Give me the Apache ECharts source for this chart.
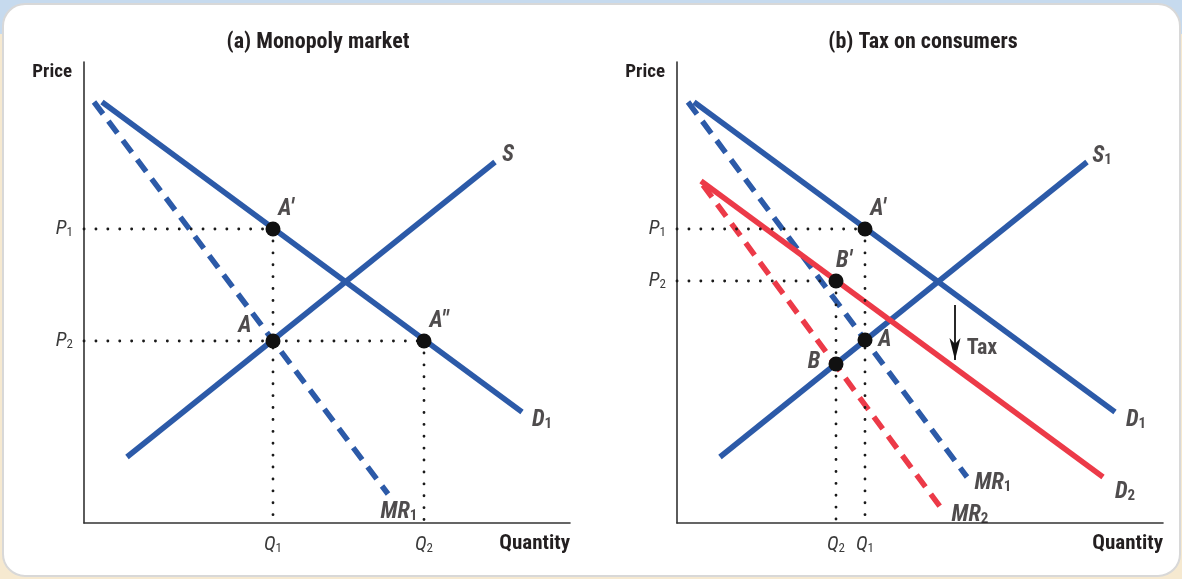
<!DOCTYPE html>
<html>
<head>
<meta charset="utf-8">
<script src="https://cdn.jsdelivr.net/npm/echarts@6/dist/echarts.min.js"></script>
<style>
html,body{margin:0;padding:0;background:#f5e8cf;}
#c{width:1182px;height:579px;}
</style>
</head>
<body>
<div id="c"></div>
<script>
// ---------- Data (values in each panel's own Quantity / Price units) ----------
// Panel (a) Monopoly market
const demandA = [[18, 421], [438, 111]];
const supplyA = [[43, 66], [411, 361]];
const mrA = [[10, 421], [304, 29]];
const pointNamesA = ['A′', 'A', 'A″'];
const pointsA = [[189, 294], [189, 182], [340, 182]];
const priceTicksA = [294, 182];
const priceTickNamesA = ['1', '2'];
const qtyTicksA = [189, 340];
const qtyTickNamesA = ['1', '2'];

// Panel (b) Tax on consumers
const demandB1 = [[17, 421], [438, 111]];
const supplyB = [[43, 66], [410, 361]];
const mrB1 = [[11, 421], [290, 46]];
const demandB2 = [[24, 342], [426, 46]];
const mrB2 = [[26, 338], [264, 15]];
const pointNamesB = ['A′', 'B′', 'A', 'B'];
const pointsB = [[188, 294], [159, 242], [188, 183], [159, 159]];
const priceTicksB = [294, 242];
const priceTickNamesB = ['1', '2'];
const qtyTicksB = [159, 188];
const qtyTickNamesB = ['2', '1'];
const taxArrow = [[278, 218], [278, 163]];
const taxLabelPos = [305, 175];

const AX_MAX_X = 486, AX_MAX_Y = 461;

// ---------- Styling ----------
const F = '"Liberation Sans Narrow", "Roboto Condensed", "Liberation Sans", Roboto, sans-serif';
const INK = '#231f20';
const BLUE = '#2c5aa8';
const RED = '#ec3a48';

const rich = {
  m: {fontFamily: F, fontWeight: 'bold', fontStyle: 'italic', fontSize: 23, lineHeight: 23, color: INK, verticalAlign: 'middle'},
  s: {fontFamily: F, fontWeight: 'bold', fontSize: 15, lineHeight: 15, color: INK, padding: [12, 0, 0, 0], verticalAlign: 'bottom'},
  t: {fontFamily: F, fontWeight: 'bold', fontSize: 22, color: INK}
};
const axRich = {
  p: {fontFamily: F, fontStyle: 'italic', fontSize: 20, lineHeight: 20, color: '#3a3a3a', verticalAlign: 'middle'},
  s: {fontFamily: F, fontSize: 13, lineHeight: 13, color: '#3a3a3a', padding: [11, 0, 0, 0], verticalAlign: 'bottom'}
};

function sub(main, s) { return '{m|' + main + '}' + (s ? '{s|' + s + '}' : ''); }

function curve(name, data, gi, color, dashed) {
  return {
    type: 'line', name: name, xAxisIndex: gi, yAxisIndex: gi, data: data,
    showSymbol: false, symbol: 'none', silent: true, animation: false, z: 3,
    lineStyle: {color: color, width: 5.5, type: dashed ? [15, 9] : 'solid', cap: 'butt'}
  };
}
function guide(a, b, gi) {
  return {
    type: 'line', xAxisIndex: gi, yAxisIndex: gi, data: [a, b], symbol: 'none', silent: true,
    animation: false, z: 4,
    lineStyle: {color: '#1a1a1a', width: 2.8, type: [0.1, 11.8], cap: 'round'}
  };
}
function labelAt(pt, text, off, gi) {
  return {
    type: 'scatter', xAxisIndex: gi, yAxisIndex: gi, symbolSize: 1, silent: true, animation: false, z: 6,
    itemStyle: {color: 'rgba(0,0,0,0)'},
    data: [{value: pt, label: {show: true, position: 'inside', offset: off, formatter: text, rich: rich}}]
  };
}
function pointSeries(pts, gi) {
  return {
    type: 'scatter', xAxisIndex: gi, yAxisIndex: gi, data: pts, symbolSize: 15, silent: true,
    animation: false, z: 5, itemStyle: {color: '#111', opacity: 1}
  };
}

function mkAxes(gi, pTicks, pNames, qTicks, qNames) {
  const x = {
    type: 'value', gridIndex: gi, min: 0, max: AX_MAX_X,
    axisLine: {show: true, onZero: false, lineStyle: {color: '#333', width: 1.6}},
    axisTick: {show: false}, splitLine: {show: false},
    axisLabel: {show: true, customValues: qTicks, margin: 12, rich: axRich,
      formatter: v => '{p|Q}{s|' + qNames[qTicks.indexOf(v)] + '}'},
    name: 'Quantity', nameLocation: 'end', nameGap: 0,
    nameTextStyle: {fontFamily: F, fontWeight: 'bold', fontSize: 21, color: INK, align: 'right', verticalAlign: 'top', padding: [10, 0, 0, 0]}
  };
  const y = {
    type: 'value', gridIndex: gi, min: 0, max: AX_MAX_Y,
    axisLine: {show: true, onZero: false, lineStyle: {color: '#333', width: 1.6}},
    axisTick: {show: false}, splitLine: {show: false},
    axisLabel: {show: true, customValues: pTicks, margin: 11, rich: axRich,
      formatter: v => '{p|P}{s|' + pNames[pTicks.indexOf(v)] + '}'},
    name: 'Price', nameLocation: 'end', nameGap: 0,
    nameTextStyle: {fontFamily: F, fontWeight: 'bold', fontSize: 19, color: INK, align: 'right', verticalAlign: 'top', padding: [1, 12, 0, 0]}
  };
  return [x, y];
}

const axA = mkAxes(0, priceTicksA, priceTickNamesA, qtyTicksA, qtyTickNamesA);
const axB = mkAxes(1, priceTicksB, priceTickNamesB, qtyTicksB, qtyTickNamesB);

const series = [];
// Panel (a)
series.push(curve('MR1', mrA, 0, BLUE, true));
series.push(curve('S', supplyA, 0, BLUE, false));
series.push(curve('D1', demandA, 0, BLUE, false));
series.push(guide([0, pointsA[0][1]], pointsA[0], 0));
series.push(guide(pointsA[0], [pointsA[0][0], 0], 0));
series.push(guide([0, pointsA[2][1]], pointsA[2], 0));
series.push(guide(pointsA[2], [pointsA[2][0], 0], 0));
series.push(pointSeries(pointsA, 0));
series.push(labelAt(supplyA[1], sub('S'), [13, -7], 0));
series.push(labelAt(demandA[1], sub('D', '1'), [20, 8], 0));
series.push(labelAt(mrA[1], sub('MR', '1'), [11, 18], 0));
series.push(labelAt(pointsA[0], sub(pointNamesA[0]), [13, -20], 0));
series.push(labelAt(pointsA[1], sub(pointNamesA[1]), [-28, -15], 0));
series.push(labelAt(pointsA[2], sub(pointNamesA[2]), [15, -20], 0));

// Panel (b)
series.push(curve('MR1', mrB1, 1, BLUE, true));
series.push(curve('MR2', mrB2, 1, RED, true));
series.push(curve('S1', supplyB, 1, BLUE, false));
series.push(curve('D1', demandB1, 1, BLUE, false));
series.push(curve('D2', demandB2, 1, RED, false));
series.push(guide([0, pointsB[0][1]], pointsB[0], 1));
series.push(guide(pointsB[0], [pointsB[0][0], 0], 1));
series.push(guide([0, pointsB[1][1]], pointsB[1], 1));
series.push(guide(pointsB[1], [pointsB[1][0], 0], 1));
series.push(pointSeries(pointsB, 1));
// Tax arrow: shaft + arrowhead
series.push({
  type: 'line', xAxisIndex: 1, yAxisIndex: 1, data: taxArrow, symbol: 'none', silent: true, animation: false, z: 4,
  lineStyle: {color: '#111', width: 1.8}
});
series.push({
  type: 'scatter', xAxisIndex: 1, yAxisIndex: 1, data: [taxArrow[1]], silent: true, animation: false, z: 4,
  symbol: 'path://M0,22 L5,0 L0,6 L-5,0 Z', symbolSize: [11, 22], symbolOffset: [0, -11],
  itemStyle: {color: '#111', opacity: 1}
});
series.push(labelAt(taxLabelPos, '{t|Tax}', [0, 0], 1));
series.push(labelAt(supplyB[1], sub('S', '1'), [15, -6], 1));
series.push(labelAt(demandB1[1], sub('D', '1'), [21, 8], 1));
series.push(labelAt(mrB1[1], sub('MR', '1'), [26, 6], 1));
series.push(labelAt(demandB2[1], sub('D', '2'), [22, 15], 1));
series.push(labelAt(mrB2[1], sub('MR', '2'), [29, 7], 1));
series.push(labelAt(pointsB[0], sub(pointNamesB[0]), [13, -20], 1));
series.push(labelAt(pointsB[1], sub(pointNamesB[1]), [8, -20], 1));
series.push(labelAt(pointsB[2], sub(pointNamesB[2]), [20, 0], 1));
series.push(labelAt(pointsB[3], sub(pointNamesB[3]), [-22, -2], 1));

const chart = echarts.init(document.getElementById('c'), null, {renderer: 'canvas'});
chart.setOption({
  animation: false,
  backgroundColor: 'transparent',
  graphic: [
    {type: 'rect', z: -10, silent: true, shape: {x: 0, y: 0, width: 1182, height: 579}, style: {fill: '#f6e9d0'}},
    {type: 'rect', z: -10, silent: true, shape: {x: 0, y: 0, width: 1182, height: 34}, style: {fill: '#c6daee'}},
    {type: 'rect', z: -9, silent: true, shape: {x: 3, y: 4, width: 1177, height: 572, r: 22},
      style: {fill: '#ffffff', stroke: '#d8d8d8', lineWidth: 2}}
  ],
  title: [
    {text: '(a) Monopoly market', left: 313, top: 26, textAlign: 'center',
      textStyle: {fontFamily: F, fontWeight: 'bold', fontSize: 22, color: INK}},
    {text: '(b) Tax on consumers', left: 918, top: 26, textAlign: 'center',
      textStyle: {fontFamily: F, fontWeight: 'bold', fontSize: 22, color: INK}}
  ],
  grid: [
    {left: 84, top: 62, width: 486, height: 461, containLabel: false},
    {left: 677, top: 62, width: 486, height: 461, containLabel: false}
  ],
  xAxis: [axA[0], axB[0]],
  yAxis: [axA[1], axB[1]],
  series: series
});
</script>
</body>
</html>
